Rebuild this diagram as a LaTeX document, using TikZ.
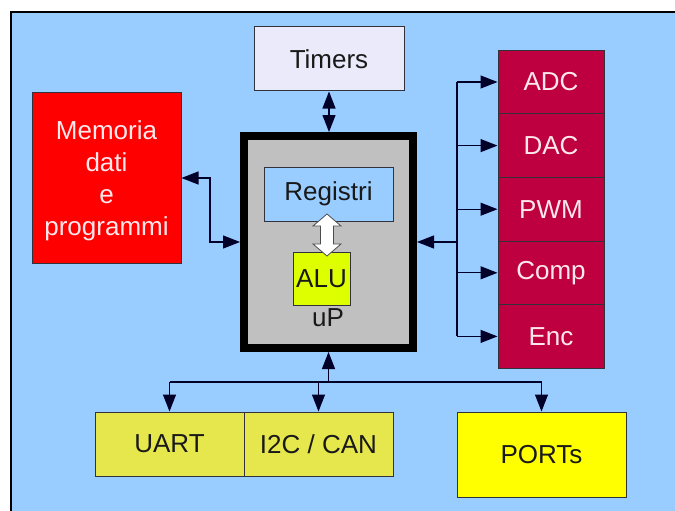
\documentclass[tikz,border=0pt]{standalone}
\usepackage{fontspec}
\setmainfont{Liberation Sans}
\usetikzlibrary{arrows.meta}

\definecolor{bgblue}{RGB}{153,204,255}
\definecolor{lavender}{RGB}{234,234,250}
\definecolor{memred}{RGB}{255,0,0}
\definecolor{crimson}{RGB}{190,0,64}
\definecolor{cpugray}{RGB}{192,192,192}
\definecolor{alulime}{RGB}{221,255,0}
\definecolor{busyellow}{RGB}{230,230,77}
\definecolor{portyellow}{RGB}{255,255,0}
\definecolor{linedark}{RGB}{0,0,40}
\definecolor{edgedark}{RGB}{50,50,60}
\definecolor{paletext}{RGB}{255,232,236}

\tikzset{
  box/.style={draw=edgedark, line width=1pt, rectangle, inner sep=0pt,
    font=\fontsize{26}{32}\selectfont, text=black!90, align=center},
  cell/.style={box, fill=crimson, text=paletext, minimum width=106, minimum height=63.6},
  wire/.style={draw=linedark, line width=1.2pt},
  tip/.style={wire, -{Triangle[length=17pt,width=13pt]}},
  dtip/.style={wire, {Triangle[length=17pt,width=13pt]}-{Triangle[length=17pt,width=13pt]}},
}

\begin{document}
\begin{tikzpicture}[x=1pt,y=-1pt]
\useasboundingbox (0,0) rectangle (675,511);
% page and frame
\fill[white] (0,0) rectangle (675,511);
\fill[bgblue] (11,12) rectangle (676,512);
\draw[black, line width=2pt] (11,512) -- (11,12) -- (676,12);

% processor core
\node[draw=black, line width=8pt, fill=cpugray, minimum width=169, minimum height=212,
      inner sep=0pt] (main) at (328.5,242) {};
\node[box, fill=bgblue, minimum width=129, minimum height=54] (reg) at (328.5,194) {Registri};
\node[box, fill=alulime, minimum width=57, minimum height=53] (alu) at (321.5,278.5) {ALU};
\node[font=\fontsize{26}{32}\selectfont, text=black!90, inner sep=0pt] (up) at (328,318) {uP};
% register <-> ALU transfer arrow
\draw[fill=white, draw=gray!60!black, line width=0.8pt]
  (327,214) -- (341,226) -- (333.5,226) -- (333.5,244) -- (341,244) -- (327,256)
  -- (313,244) -- (320.5,244) -- (320.5,226) -- (313,226) -- cycle;

% peripherals
\node[box, fill=lavender, minimum width=150, minimum height=64] (tim) at (329,59) {Timers};
\node[box, fill=memred, text=paletext, minimum width=149, minimum height=170] (mem) at (106.5,178) {};
\node[font=\fontsize{26}{32}\selectfont, text=paletext, align=center, inner sep=0pt]
  (memtext) at (106.5,181) {Memoria\\dati\\e\\programmi};

\node[cell] (adc) at (551,82) {ADC};
\node[cell] (dac) at (551,145.6) {DAC};
\node[cell] (pwm) at (551,209.2) {PWM};
\node[cell] (cmp) at (551,272.8) {Comp};
\node[cell] (enc) at (551,336.4) {Enc};

\node[box, fill=busyellow, minimum width=149, minimum height=64] (uart) at (169.5,444) {UART};
\node[box, fill=busyellow, minimum width=149, minimum height=64] (i2c) at (318.5,444) {I2C / CAN};
\node[box, fill=portyellow, minimum width=169, minimum height=85] (ports) at (541.5,454.5) {PORTs};

% timers link
\draw[dtip] (tim.south) -- (tim.south |- main.north);

% memory link
\coordinate (mbend) at (210,178);
\draw[dtip] (mem.east) -- (mbend) |- (main.west);

% analog peripheral bus
\coordinate (abus) at (457,0);
\draw[wire] (adc.west -| abus) -- (enc.west -| abus);
\foreach \c in {adc,dac,pwm,cmp,enc}
  \draw[tip] (\c.west -| abus) -- (\c.west);
\draw[tip] (main.east -| abus) -- (main.east);

% serial / port bus
\coordinate (sbus) at (0,382);
\draw[wire] (uart.north |- sbus) -- (ports.north |- sbus);
\draw[tip] (main.south |- sbus) -- (main.south);
\foreach \c in {uart,i2c,ports}
  \draw[tip] (\c.north |- sbus) -- (\c.north);
\end{tikzpicture}
\end{document}
